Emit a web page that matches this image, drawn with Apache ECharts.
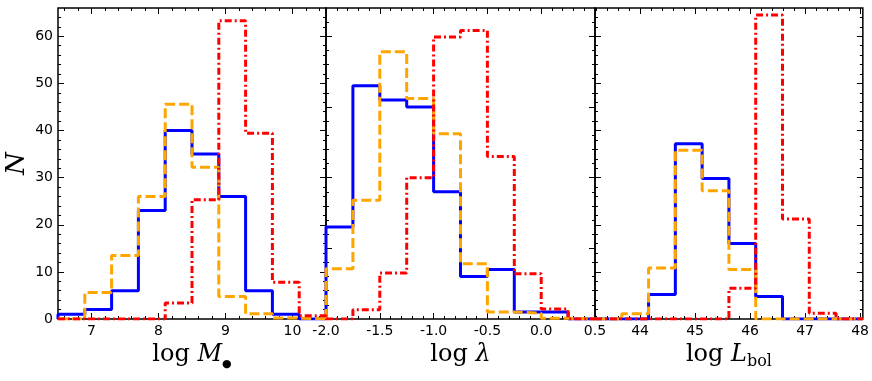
<!DOCTYPE html>
<html>
<head>
<meta charset="utf-8">
<script src="https://cdn.jsdelivr.net/npm/echarts@6/dist/echarts.min.js"></script>
<style>
html, body { margin: 0; padding: 0; background: #fff; }
#chart { width: 872px; height: 381px; }
</style>
</head>
<body>
<div id="chart"></div>
<script>
// histogram bins + counts
var massEdges = [6.5, 6.9, 7.3, 7.7, 8.1, 8.5, 8.9, 9.3, 9.7, 10.1, 10.5];
var massBlue = [1, 2, 6, 23, 40, 35, 26, 6, 1, 0];
var massOrange = [0, 5.6, 13.5, 26, 45.6, 32.2, 4.8, 1.1, 0.2, 0];
var massRed = [0, 0, 0, 0, 3.4, 25.3, 63.3, 39.4, 7.8, 0.7];

var eddEdges = [-2.0, -1.75, -1.5, -1.25, -1.0, -0.75, -0.5, -0.25, 0.0, 0.25, 0.5];
var eddBlue = [13, 33, 31, 30, 18, 6, 7, 1, 1, 0];
var eddOrange = [7.1, 16.8, 37.8, 31.2, 26.2, 7.8, 1.0, 0.8, 0.1, 0];
var eddRed = [0, 1.3, 6.5, 20.0, 39.9, 40.8, 23.0, 6.4, 1.4, 0];

var lumEdges = [43.18, 43.667, 44.154, 44.641, 45.128, 45.615, 46.102, 46.589, 47.076, 47.563, 48.05];
var lumBlue = [0, 0, 5.2, 37.2, 29.8, 16.0, 4.8, 0, 0, 0];
var lumOrange = [0, 1.1, 10.8, 35.8, 27.2, 10.5, 0, 0, 0, 0];
var lumRed = [0, 0, 0, 0, 0, 6.5, 64.5, 21.2, 1.2, 0];

var massTicks = [7, 8, 9, 10];
var eddTicks = [-2.0, -1.5, -1.0, -0.5, 0.0, 0.5];
var lumTicks = [44, 45, 46, 47, 48];
var countTicks = [0, 10, 20, 30, 40, 50, 60];

var dom = document.getElementById('chart');
var myChart = echarts.init(dom, null, { renderer: 'canvas' });

// outline of a step histogram (matplotlib histtype='step')
function steps(edges, counts) {
    var pts = [[edges[0], 0]];
    for (var i = 0; i < counts.length; i++) {
        pts.push([edges[i], counts[i]]);
        pts.push([edges[i + 1], counts[i]]);
    }
    pts.push([edges[edges.length - 1], 0]);
    return pts;
}

function range(a, b, step) {
    var out = [];
    for (var v = a; v <= b + 1e-9; v += step) out.push(+v.toFixed(4));
    return out;
}

var serifRich = {
    r: { fontFamily: 'DejaVu Serif', fontSize: 24, color: '#000', lineHeight: 30 },
    i: { fontFamily: 'DejaVu Serif', fontStyle: 'italic', fontSize: 24, color: '#000', lineHeight: 30 },
    dot: { fontFamily: 'DejaVu Sans', fontSize: 11, color: '#000', lineHeight: 12, verticalAlign: 'bottom' },
    sub: { fontFamily: 'DejaVu Serif', fontSize: 16, color: '#000', lineHeight: 8, verticalAlign: 'bottom' }
};

var panels = [
    { left: 58, width: 268, xmin: 6.5, xmax: 10.5, ymax: 66,
      xMajor: massTicks, xMinor: range(6.6, 10.4, 0.2), yMajor: countTicks, yMinor: range(2, 64, 2),
      fmt: function (v) { return String(v); },
      name: '{r|log }{i|M}{dot|●}', data: [massBlue, massOrange, massRed], edges: massEdges, yLabels: true },
    { left: 326, width: 269, xmin: -2.0, xmax: 0.5, ymax: 44,
      xMajor: eddTicks, xMinor: range(-1.9, 0.4, 0.1), yMajor: [0, 10, 20, 30, 40], yMinor: range(2, 42, 2),
      fmt: function (v) { return v.toFixed(1); },
      name: '{r|log }{i|λ}', data: [eddBlue, eddOrange, eddRed], edges: eddEdges, yLabels: false },
    { left: 595, width: 270, xmin: 43.18, xmax: 48.05, ymax: 66,
      xMajor: lumTicks, xMinor: range(43.2, 48.0, 0.2), yMajor: countTicks, yMinor: range(2, 64, 2),
      fmt: function (v) { return String(v); },
      name: '{r|log }{i|L}{sub|bol}', data: [lumBlue, lumOrange, lumRed], edges: lumEdges, yLabels: false }
];

var grids = [], xAxes = [], yAxes = [], series = [];

function tickAxis(g, pos, min, max, ticks, len) {
    return {
        type: 'value', gridIndex: g, position: pos, min: min, max: max,
        axisLine: { show: false, onZero: false }, splitLine: { show: false },
        axisTick: { show: true, inside: true, length: len, customValues: ticks,
                    lineStyle: { color: '#000', width: 1 } },
        axisLabel: { show: false }
    };
}

var styles = [
    { color: '#0000ff', type: 'solid' },
    { color: '#ffa500', type: [10, 4] },
    { color: '#ff0000', type: [7, 3, 2, 3] }
];

panels.forEach(function (p, g) {
    grids.push({ left: p.left, width: p.width, top: 8, height: 311, show: true,
                 borderColor: '#000', borderWidth: 1.5, backgroundColor: 'transparent' });

    var xMain = tickAxis(g, 'bottom', p.xmin, p.xmax, p.xMajor, 6);
    xMain.axisLabel = { show: true, customValues: p.xMajor, formatter: p.fmt, margin: 5,
                        fontFamily: 'DejaVu Sans', fontSize: 14, color: '#000' };
    xMain.name = p.name;
    xMain.nameLocation = 'middle';
    xMain.nameGap = 18;
    xMain.nameTextStyle = { rich: serifRich };
    var xi = xAxes.length;
    xAxes.push(xMain,
               tickAxis(g, 'bottom', p.xmin, p.xmax, p.xMinor, 3),
               tickAxis(g, 'top', p.xmin, p.xmax, p.xMajor, 6),
               tickAxis(g, 'top', p.xmin, p.xmax, p.xMinor, 3));

    var yMain = tickAxis(g, 'left', 0, p.ymax, p.yMajor, 6);
    if (p.yLabels) {
        yMain.axisLabel = { show: true, customValues: p.yMajor, margin: 5,
                            fontFamily: 'DejaVu Sans', fontSize: 14, color: '#000' };
        yMain.name = 'N';
        yMain.nameLocation = 'middle';
        yMain.nameGap = 28;
        yMain.nameRotate = 90;
        yMain.nameTextStyle = { fontFamily: 'DejaVu Serif', fontStyle: 'italic', fontSize: 26, color: '#000' };
    }
    var yi = yAxes.length;
    yAxes.push(yMain,
               tickAxis(g, 'left', 0, p.ymax, p.yMinor, 3),
               tickAxis(g, 'right', 0, p.ymax, p.yMajor, 6),
               tickAxis(g, 'right', 0, p.ymax, p.yMinor, 3));

    p.data.forEach(function (counts, k) {
        series.push({
            type: 'line', xAxisIndex: xi, yAxisIndex: yi,
            data: steps(p.edges, counts),
            symbol: 'none', silent: true, z: 2 + k,
            lineStyle: { color: styles[k].color, type: styles[k].type, width: 3 }
        });
    });
});

var option = {
    animation: false,
    backgroundColor: '#fff',
    grid: grids,
    xAxis: xAxes,
    yAxis: yAxes,
    series: series
};

myChart.setOption(option);
window.addEventListener('resize', myChart.resize);
</script>
</body>
</html>
